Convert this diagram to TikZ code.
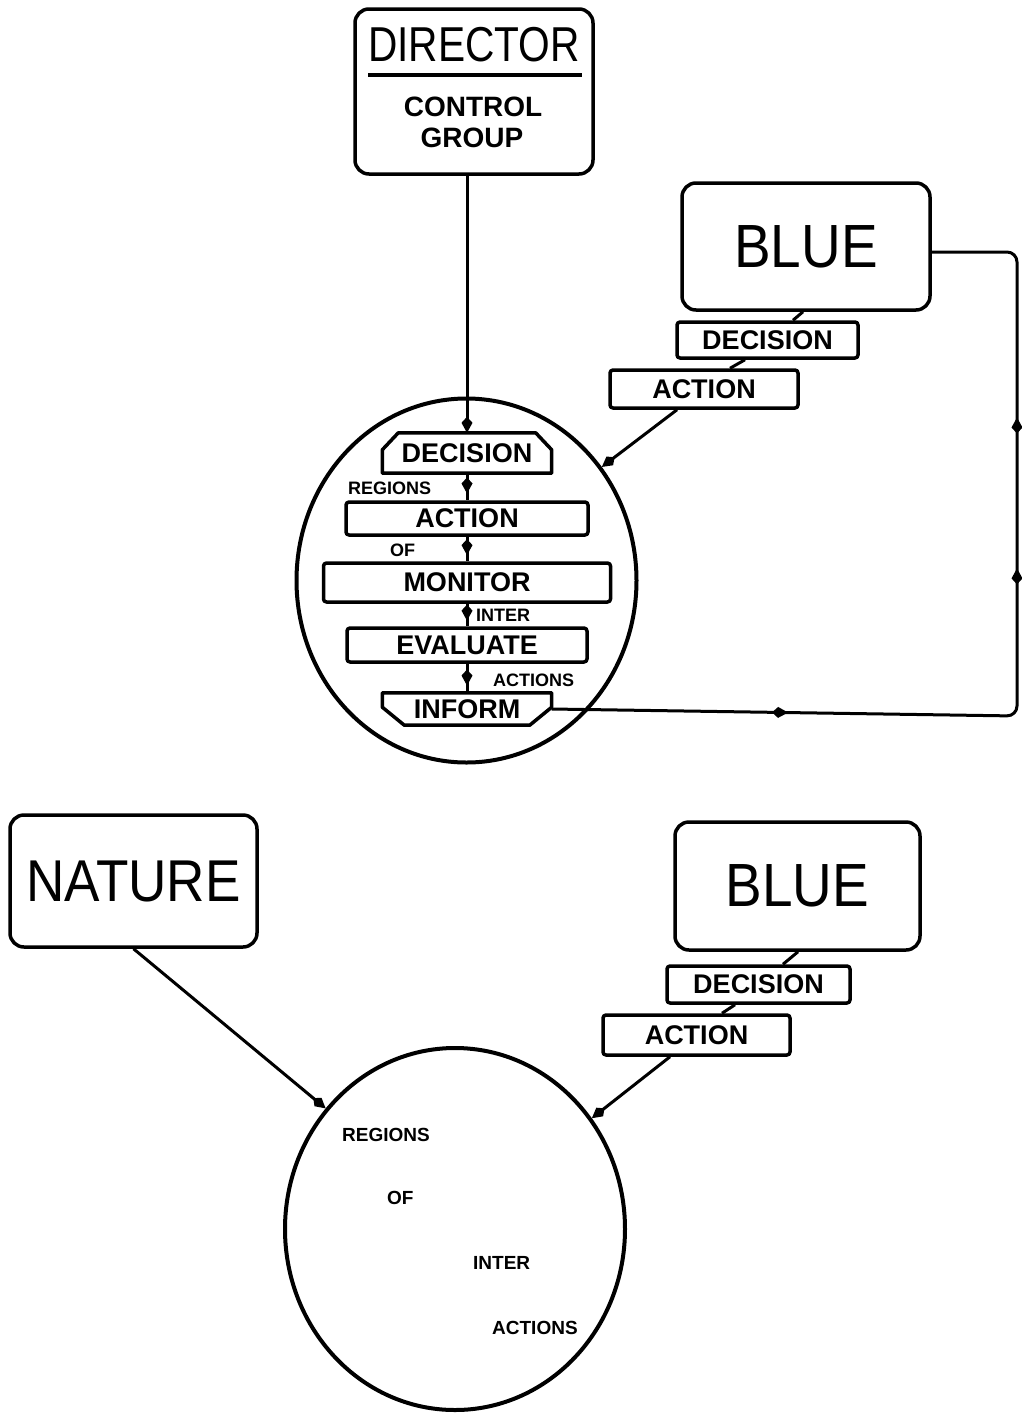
\documentclass[tikz,border=0pt]{standalone}
\usepackage{fontspec}
\setmainfont{Liberation Sans}
\usepackage{graphicx}
\usetikzlibrary{shapes.geometric,arrows.meta,decorations.markings,calc}
\begin{document}
\begin{tikzpicture}[x=1pt,y=-1pt,
  boxline/.style={line width=3.5pt, line join=round},
  big/.style={draw, boxline, rounded corners=14pt, inner sep=0pt},
  small/.style={draw, boxline, rounded corners=3pt, inner sep=0pt, font=\fontsize{27}{27}\selectfont\bfseries},
  hexa/.style={inner sep=0pt, font=\fontsize{27}{27}\selectfont\bfseries},
  note/.style={inner sep=0pt, anchor=west, font=\fontsize{18}{18}\selectfont\bfseries},
  ring/.style={ellipse, draw, line width=4pt, inner sep=0pt},
  conn/.style={line width=3pt},
  tipend/.style={-{Kite[length=16pt,width=11pt,inset=6pt]}},
  mk/.style={postaction={decorate, decoration={markings, mark=at position #1 with {\arrow{Kite[length=16pt,width=11pt,inset=6pt]}}}}},
  bigfont/.style={font=\fontsize{#1}{#1}\selectfont}
]
\useasboundingbox (0,0) rectangle (1021,1422);

% ---------- top part ----------
\node[big, minimum width=238pt, minimum height=165pt] (dir) at (474,91.5) {};
\node[inner sep=0pt, bigfont=49] (dirt) at (474,45) {\scalebox{0.83}[1]{DIRECTOR}};
\draw[line width=4.5pt] (368,75) -- (582,75);
\node[inner sep=0pt, font=\fontsize{28}{28}\selectfont\bfseries] (ctl) at (473,107) {CONTROL};
\node[inner sep=0pt, font=\fontsize{28}{28}\selectfont\bfseries] (grp) at (472,138) {GROUP};

\node[big, minimum width=248pt, minimum height=127pt, bigfont=61] (blue1) at (806,246.5) {\scalebox{0.9}[1]{BLUE}};
\node[small, minimum width=181pt, minimum height=36pt] (dec1) at (767.5,340) {DECISION};
\node[small, minimum width=188pt, minimum height=38pt] (act1) at (704,389) {ACTION};

\node[ring, minimum width=340pt, minimum height=364pt] (circ1) at (466.5,580.5) {};

\node[hexa, minimum width=169pt, minimum height=40pt] (cdec) at (467,453) {DECISION};
\draw[boxline] (cdec.south west) -- ([yshift=-17pt]cdec.north west) -- ([xshift=16pt]cdec.north west)
  -- ([xshift=-16pt]cdec.north east) -- ([yshift=-17pt]cdec.north east) -- (cdec.south east) -- cycle;
\node[small, minimum width=242pt, minimum height=33pt] (cact) at (467,518.5) {ACTION};
\node[small, minimum width=287pt, minimum height=39pt] (cmon) at (467,582.5) {MONITOR};
\node[small, minimum width=240pt, minimum height=34pt] (ceva) at (467,645) {EVALUATE};
\node[hexa, minimum width=169pt, minimum height=32pt] (cinf) at (467,709) {INFORM};
\draw[boxline] (cinf.north west) -- ([yshift=18pt]cinf.south west) -- ([xshift=22pt]cinf.south west)
  -- ([xshift=-22pt]cinf.south east) -- ([yshift=18pt]cinf.south east) -- (cinf.north east) -- cycle;

\node[note] (r1) at (348,488) {REGIONS};
\node[note] (o1) at (390,550) {OF};
\node[note] (i1) at (476,615) {INTER};
\node[note] (a1) at (493,680) {ACTIONS};

\draw[conn, tipend] (cdec.north |- dir.south) -- (cdec.north);
\draw[conn, mk=0.75] (cdec.south) -- (cact.north);
\draw[conn, mk=0.75] (cact.south) -- (cmon.north);
\draw[conn, mk=0.75] (cmon.south) -- (ceva.north);
\draw[conn, mk=0.75] (ceva.south) -- (cinf.north);

\draw[conn] ([xshift=-3pt]blue1.south) -- ([xshift=25.5pt]dec1.north);
\draw[conn] ([xshift=-22.5pt]dec1.south) -- ([xshift=26pt]act1.north);
\draw[conn, tipend] ([xshift=-27pt]act1.south) -- (circ1.40.7);

\coordinate (lc1) at (1017,716);
\coordinate (lc2) at (1017,252);
\draw[conn, rounded corners=10pt, mk=0.235, mk=0.605, mk=0.755] (cinf.east) -- (lc1) -- (lc2) -- (lc2 -| blue1.east);

% ---------- bottom part ----------
\node[big, minimum width=247pt, minimum height=132pt, bigfont=59] (nat) at (133.5,881) {\scalebox{0.9}[1]{NATURE}};
\node[big, minimum width=245pt, minimum height=128pt, bigfont=61] (blue2) at (797.5,886) {\scalebox{0.9}[1]{BLUE}};
\node[small, minimum width=183pt, minimum height=37pt] (dec2) at (758.5,984.5) {DECISION};
\node[small, minimum width=187pt, minimum height=40pt] (act2) at (696.5,1035) {ACTION};

\node[ring, minimum width=340pt, minimum height=362pt] (circ2) at (455,1229) {};

\node[note, font=\fontsize{19}{19}\selectfont\bfseries] (r2) at (342,1135) {REGIONS};
\node[note, font=\fontsize{19}{19}\selectfont\bfseries] (o2) at (387,1198) {OF};
\node[note, font=\fontsize{19}{19}\selectfont\bfseries] (i2) at (473,1263) {INTER};
\node[note, font=\fontsize{19}{19}\selectfont\bfseries] (a2) at (492,1328) {ACTIONS};

\draw[conn] ([xshift=0.5pt]blue2.south) -- ([xshift=24.5pt]dec2.north);
\draw[conn] ([xshift=-23.5pt]dec2.south) -- ([xshift=25.5pt]act2.north);
\draw[conn, tipend] ([xshift=-26.5pt]act2.south) -- (circ2.39.5);
\draw[conn, tipend] (nat.south) -- (circ2.137.7);
\end{tikzpicture}
\end{document}
